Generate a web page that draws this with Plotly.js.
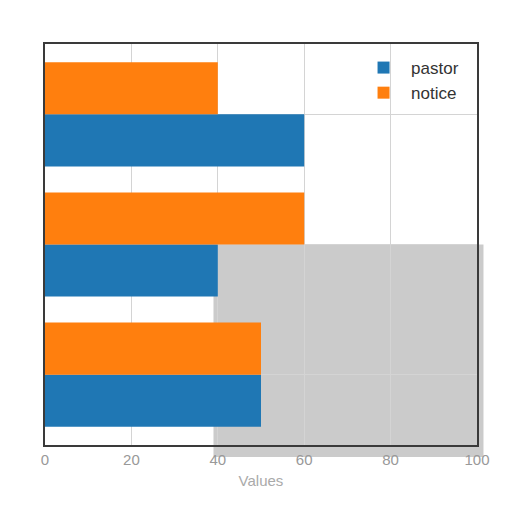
<!DOCTYPE html>
<html>
<head>
<meta charset="utf-8">
<script src="https://cdn.plot.ly/plotly-3.0.1.min.js"></script>
<style>
	html, body { margin: 0; padding: 0; background: #fff; }
	#chart { width: 512px; height: 512px; }
</style>
</head>
<body>
<div id="chart"></div>
<script>
	var categories = [0, 1, 2];
	var pastor = [50, 40, 60];
	var notice = [50, 60, 40];
	var xTicks = [0, 20, 40, 60, 80, 100];

	var colors = ['#1f77b4', '#ff7f0e'];

	var data = [{
		type: 'bar',
		orientation: 'h',
		name: 'pastor',
		y: categories,
		x: pastor,
		marker: {color: colors[0]},
		hoverinfo: 'x'
	}, {
		type: 'bar',
		orientation: 'h',
		name: 'notice',
		y: categories,
		x: notice,
		marker: {color: colors[1]},
		hoverinfo: 'x'
	}];

	var layout = {
		width: 512,
		height: 512,
		margin: {l: 45, r: 35, t: 44, b: 67},
		paper_bgcolor: '#fff',
		plot_bgcolor: 'rgba(0,0,0,0)',
		font: {family: 'Liberation Sans, Arial, sans-serif', color: '#333'},
		barmode: 'group',
		bargap: 0.2,
		bargroupgap: 0,
		showlegend: true,
		legend: {
			x: 0.72, y: 0.985, xanchor: 'left', yanchor: 'top',
			bgcolor: 'rgba(255,255,255,0)',
			traceorder: 'normal',
			itemwidth: 45,
			font: {size: 17, color: '#333'}
		},
		xaxis: {
			range: [0, 100],
			tickvals: xTicks,
			ticks: '',
			tickfont: {size: 15, color: '#999'},
			showgrid: true,
			gridcolor: '#d4d4d4',
			zeroline: false,
			showline: true,
			mirror: true,
			linecolor: '#3a3a3a',
			linewidth: 2,
			title: {text: 'Values', font: {size: 15, color: '#aaa'}, standoff: 8}
		},
		yaxis: {
			range: [-0.54, 2.54],
			tickvals: categories,
			showticklabels: false,
			ticks: '',
			showgrid: true,
			gridcolor: '#d4d4d4',
			zeroline: false,
			showline: true,
			mirror: true,
			linecolor: '#3a3a3a',
			linewidth: 2
		},
		// smudge of grey behind the lower right of the plot
		shapes: [{
			type: 'rect',
			xref: 'paper', yref: 'paper',
			x0: 0.39, x1: 1.015, y0: -0.03, y1: 0.5,
			fillcolor: '#cbcbcb',
			line: {width: 0},
			layer: 'below'
		}]
	};

	Plotly.newPlot('chart', data, layout, {displayModeBar: false});
</script>
</body>
</html>
